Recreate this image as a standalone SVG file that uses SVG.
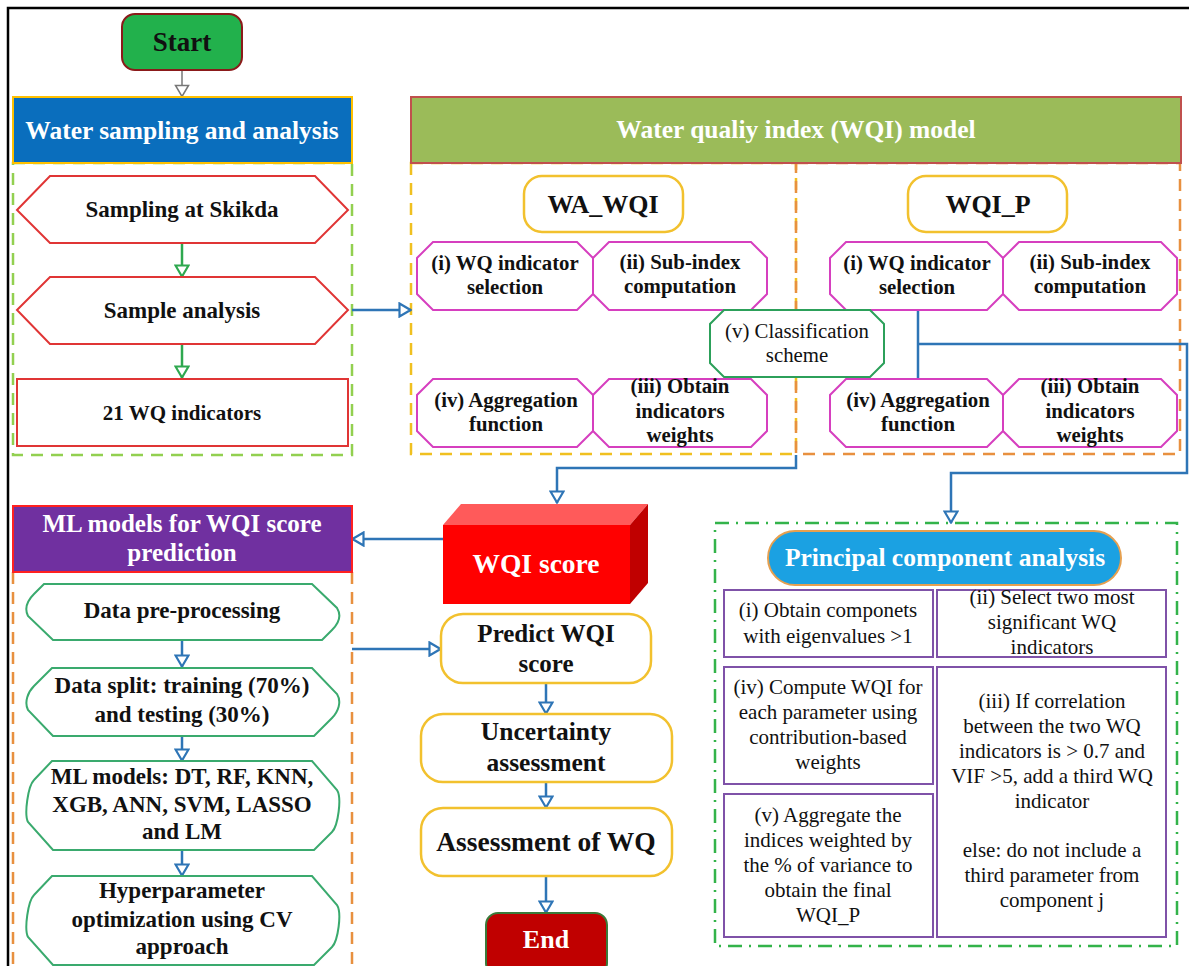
<svg xmlns="http://www.w3.org/2000/svg" width="1189" height="966" viewBox="0 0 1189 966">
<style>
text{font-family:"Liberation Serif","Times New Roman",serif;text-anchor:middle;fill:#111}
.b{font-weight:bold}
.w{fill:#fff}
.oct{fill:#fff;stroke:#d63fbf;stroke-width:2}
.hexr{fill:#fff;stroke:#e03535;stroke-width:2}
.hexg{fill:#fff;stroke:#3aaa6e;stroke-width:2}
.yr{fill:#fff;stroke:#f2c12e;stroke-width:2.5}
.pb{fill:#fff;stroke:#7f52a8;stroke-width:2}
.con{fill:none;stroke:#2e75b6;stroke-width:2.5}
.cg{fill:none;stroke:#2ea84f;stroke-width:2.5}
.cgr{fill:none;stroke:#777;stroke-width:1.5}
.t19{font-size:21px}
.o{font-size:20.8px}
.t21{font-size:23px}
</style>
<defs>
<marker id="ab" viewBox="0 0 14 16" refX="13" refY="8" markerWidth="14" markerHeight="16" orient="auto" markerUnits="userSpaceOnUse"><path d="M1.5,1.5 L12.5,8 L1.5,14.5 Z" fill="#fff" stroke="#2e75b6" stroke-width="2.2"/></marker>
<marker id="ag" viewBox="0 0 14 16" refX="13" refY="8" markerWidth="14" markerHeight="16" orient="auto" markerUnits="userSpaceOnUse"><path d="M1.5,1.5 L12.5,8 L1.5,14.5 Z" fill="#fff" stroke="#2ea84f" stroke-width="2.2"/></marker>
<marker id="agr" viewBox="0 0 14 16" refX="13" refY="8" markerWidth="14" markerHeight="16" orient="auto" markerUnits="userSpaceOnUse"><path d="M1.5,1.5 L12.5,8 L1.5,14.5 Z" fill="#fff" stroke="#777" stroke-width="1.5"/></marker>
</defs>
<rect width="1189" height="966" fill="#fff"/>
<path d="M8,966 V8 H1189" fill="none" stroke="#000" stroke-width="2.5"/>

<!-- containers -->
<g id="containers" fill="none" stroke-width="2.5" stroke-dasharray="12,8">
<rect x="13" y="163" width="339" height="292" stroke="#92d050"/>
<rect x="411" y="163" width="385" height="291" stroke="#f0c020"/>
<rect x="796" y="163" width="384" height="291" stroke="#e8903f"/>
<path d="M13,572 V980 M352,572 V980" stroke="#e8903f"/>
<rect x="715" y="523" width="462" height="423" stroke="#33b34a" stroke-dasharray="14,7,2,7"/>
</g>

<!-- connectors -->
<g id="connectors">
<path class="cgr" d="M182,70 V97" marker-end="url(#agr)"/>
<path class="cg" d="M182,243 V277" marker-end="url(#ag)"/>
<path class="cg" d="M182,344 V378" marker-end="url(#ag)"/>
<path class="con" d="M352,310 H411" marker-end="url(#ab)"/>
<path class="con" d="M796,455 V468 H557 V503" marker-end="url(#ab)"/>
<path class="con" d="M918,310 V379 M918,344 H1187 V473 H951 V523" marker-end="url(#ab)"/>
<path class="con" d="M443,539 H352" marker-end="url(#ab)"/>
<path class="con" d="M352,649 H441" marker-end="url(#ab)"/>
<path class="con" d="M182,640 V667" marker-end="url(#ab)"/>
<path class="con" d="M182,736 V761" marker-end="url(#ab)"/>
<path class="con" d="M182,850 V876" marker-end="url(#ab)"/>
<path class="con" d="M546,683 V714" marker-end="url(#ab)"/>
<path class="con" d="M546,782 V808" marker-end="url(#ab)"/>
<path class="con" d="M546,876 V913" marker-end="url(#ab)"/>
</g>

<g id="start">
<rect x="122" y="14" width="120" height="56" rx="13" fill="#22b14c" stroke="#8b1a1a" stroke-width="2"/>
<text x="182" y="51" class="b" font-size="27">Start</text>
</g>

<g id="water-sampling-header">
<rect x="13" y="97" width="339" height="66" fill="#0a6ebd" stroke="#ffc000" stroke-width="2"/>
<text x="182" y="139" class="b w" font-size="25.5">Water sampling and analysis</text>
</g>

<g id="sampling-skikda">
<polygon class="hexr" points="17,210 50,176 315,176 348,210 315,243 50,243"/>
<text x="182" y="217" class="b t21">Sampling at Skikda</text>
</g>
<g id="sample-analysis">
<polygon class="hexr" points="17,310 50,277 315,277 348,310 315,344 50,344"/>
<text x="182" y="318" class="b t21">Sample analysis</text>
</g>
<g id="wq-indicators">
<rect class="hexr" x="17" y="379" width="331" height="67"/>
<text x="182" y="420" class="b" font-size="21">21 WQ indicators</text>
</g>

<g id="wqi-model-header">
<rect x="411" y="97" width="770" height="66" fill="#9bbb59" stroke="#c0504d" stroke-width="2"/>
<text x="796" y="138" class="b w" font-size="25.5">Water qualiy index (WQI) model</text>
</g>

<g id="wa-wqi">
<rect class="yr" x="524" y="176" width="159" height="56" rx="18"/>
<text x="603" y="213" class="b" font-size="26">WA_WQI</text>
</g>
<g id="wqi-p">
<rect class="yr" x="908" y="176" width="159" height="56" rx="18"/>
<text x="988" y="213" class="b" font-size="26">WQI_P</text>
</g>

<g id="wa-i">
<polygon class="oct" points="433,242 577,242 593,258 593,294 577,310 433,310 417,294 417,258"/>
<text x="505" y="270" class="b o">(i) WQ indicator</text><text x="505" y="294" class="b o">selection</text>
</g>
<g id="wa-ii">
<polygon class="oct" points="609,242 751,242 767,258 767,294 751,310 609,310 593,294 593,258"/>
<text x="680" y="269" class="b o">(ii) Sub-index</text><text x="680" y="293" class="b o">computation</text>
</g>
<g id="wa-iv">
<polygon class="oct" points="433,379 577,379 593,395 593,431 577,447 433,447 417,431 417,395"/>
<text x="506" y="407" class="b o">(iv) Aggregation</text><text x="506" y="431" class="b o">function</text>
</g>
<g id="wa-iii">
<polygon class="oct" points="609,379 751,379 767,395 767,431 751,447 609,447 593,431 593,395"/>
<text x="680" y="393" class="b o">(iii) Obtain</text><text x="680" y="418" class="b o">indicators</text><text x="680" y="442" class="b o">weights</text>
</g>

<g id="p-i">
<polygon class="oct" points="846,242 987,242 1003,258 1003,294 987,310 846,310 830,294 830,258"/>
<text x="917" y="270" class="b o">(i) WQ indicator</text><text x="917" y="294" class="b o">selection</text>
</g>
<g id="p-ii">
<polygon class="oct" points="1019,242 1161,242 1177,258 1177,294 1161,310 1019,310 1003,294 1003,258"/>
<text x="1090" y="269" class="b o">(ii) Sub-index</text><text x="1090" y="293" class="b o">computation</text>
</g>
<g id="p-iv">
<polygon class="oct" points="846,379 987,379 1003,395 1003,431 987,447 846,447 830,431 830,395"/>
<text x="918" y="407" class="b o">(iv) Aggregation</text><text x="918" y="431" class="b o">function</text>
</g>
<g id="p-iii">
<polygon class="oct" points="1019,379 1161,379 1177,395 1177,431 1161,447 1019,447 1003,431 1003,395"/>
<text x="1090" y="393" class="b o">(iii) Obtain</text><text x="1090" y="418" class="b o">indicators</text><text x="1090" y="442" class="b o">weights</text>
</g>

<g id="classification">
<polygon points="724,310 870,310 884,324 884,363 870,377 724,377 710,363 710,324" fill="#fff" stroke="#2ca05a" stroke-width="2"/>
<text x="797" y="338" class="o">(v) Classification</text><text x="797" y="362" class="o">scheme</text>
</g>

<g id="wqi-score">
<polygon points="443,525 461,504 648,504 630,525" fill="#ff5a5a"/>
<polygon points="630,525 648,504 648,583 630,604" fill="#c00000"/>
<rect x="443" y="525" width="187" height="79" fill="#ff0000"/>
<text x="536" y="573" class="b w" font-size="27.5">WQI score</text>
</g>

<g id="ml-header">
<rect x="13" y="506" width="339" height="66" fill="#7030a0" stroke="#ff2020" stroke-width="2"/>
<text x="182" y="532" class="b w" font-size="25">ML models for WQI score</text>
<text x="182" y="561" class="b w" font-size="25">prediction</text>
</g>

<g id="data-preprocessing">
<path class="hexg" d="M56,584 L312,584 L337,608 C342,616 338,624 332,630 L322,640 L53,640 L28,616 C24,608 28,600 34,594 L44,584 Z"/>
<text x="182" y="618" class="b t21">Data pre-processing</text>
</g>
<g id="data-split">
<path class="hexg" d="M56,668 L312,668 L337,694 C342,702 338,712 332,718 L314,736 L53,736 L28,710 C24,702 28,692 34,686 L52,668 Z"/>
<text x="182" y="693" class="b t21">Data split: training (70%)</text>
<text x="182" y="722" class="b t21">and testing (30%)</text>
</g>
<g id="ml-models">
<path class="hexg" d="M56,761 L312,761 L337,790 C342,798 338,826 332,832 L314,850 L53,850 L28,822 C24,814 28,786 34,780 L52,761 Z"/>
<text x="182" y="784" class="b t21">ML models: DT, RF, KNN,</text>
<text x="182" y="812" class="b t21">XGB, ANN, SVM, LASSO</text>
<text x="182" y="839" class="b t21">and LM</text>
</g>
<g id="hyperparameter">
<path class="hexg" d="M56,876 L312,876 L337,905 C342,913 338,941 332,947 L314,965 L53,965 L28,937 C24,929 28,901 34,895 L52,876 Z"/>
<text x="182" y="898" class="b t21">Hyperparameter</text>
<text x="182" y="927" class="b t21">optimization using CV</text>
<text x="182" y="954" class="b t21">approach</text>
</g>

<g id="predict">
<rect class="yr" x="441" y="614" width="210" height="69" rx="22"/>
<text x="546" y="642" class="b" font-size="25">Predict WQI</text>
<text x="546" y="672" class="b" font-size="25">score</text>
</g>
<g id="uncertainty">
<rect class="yr" x="421" y="714" width="251" height="68" rx="22"/>
<text x="546" y="740" class="b" font-size="25.5">Uncertainty</text>
<text x="546" y="771" class="b" font-size="25.5">assessment</text>
</g>
<g id="assessment">
<rect class="yr" x="421" y="808" width="251" height="68" rx="22"/>
<text x="546" y="851" class="b" font-size="27.5">Assessment of WQ</text>
</g>
<g id="end">
<rect x="486" y="913" width="121" height="62" rx="12" fill="#c00000" stroke="#3a7a3a" stroke-width="2"/>
<text x="546" y="948" class="b w" font-size="26">End</text>
</g>

<g id="pca-title">
<rect x="768" y="531" width="353" height="54" rx="27" fill="#1ba1e2" stroke="#e6a050" stroke-width="2"/>
<text x="945" y="566" class="b w" font-size="25.5">Principal component analysis</text>
</g>
<g id="pca-i">
<rect class="pb" x="724" y="590" width="209" height="67"/>
<text x="828" y="617" class="t19">(i) Obtain componets</text>
<text x="828" y="643" class="t19">with eigenvalues &gt;1</text>
</g>
<g id="pca-ii">
<rect class="pb" x="937" y="590" width="229" height="67"/>
<text x="1052" y="604" class="t19">(ii) Select two most</text>
<text x="1052" y="629" class="t19">significant WQ</text>
<text x="1052" y="654" class="t19">indicators</text>
</g>
<g id="pca-iv">
<rect class="pb" x="724" y="667" width="209" height="117"/>
<text x="828" y="694" class="t19">(iv) Compute WQI for</text>
<text x="828" y="719" class="t19">each parameter using</text>
<text x="828" y="744" class="t19">contribution-based</text>
<text x="828" y="769" class="t19">weights</text>
</g>
<g id="pca-iii">
<rect class="pb" x="937" y="667" width="229" height="270"/>
<text x="1052" y="708" class="t19">(iii) If correlation</text>
<text x="1052" y="733" class="t19">between the two WQ</text>
<text x="1052" y="758" class="t19">indicators is &gt; 0.7 and</text>
<text x="1052" y="783" class="t19">VIF &gt;5, add a third WQ</text>
<text x="1052" y="808" class="t19">indicator</text>
<text x="1052" y="857" class="t19">else: do not include a</text>
<text x="1052" y="882" class="t19">third parameter from</text>
<text x="1052" y="907" class="t19">component j</text>
</g>
<g id="pca-v">
<rect class="pb" x="724" y="794" width="209" height="143"/>
<text x="828" y="822" class="t19">(v) Aggregate the</text>
<text x="828" y="847" class="t19">indices weighted by</text>
<text x="828" y="872" class="t19">the % of variance to</text>
<text x="828" y="897" class="t19">obtain the final</text>
<text x="828" y="922" class="t19">WQI_P</text>
</g>
</svg>
